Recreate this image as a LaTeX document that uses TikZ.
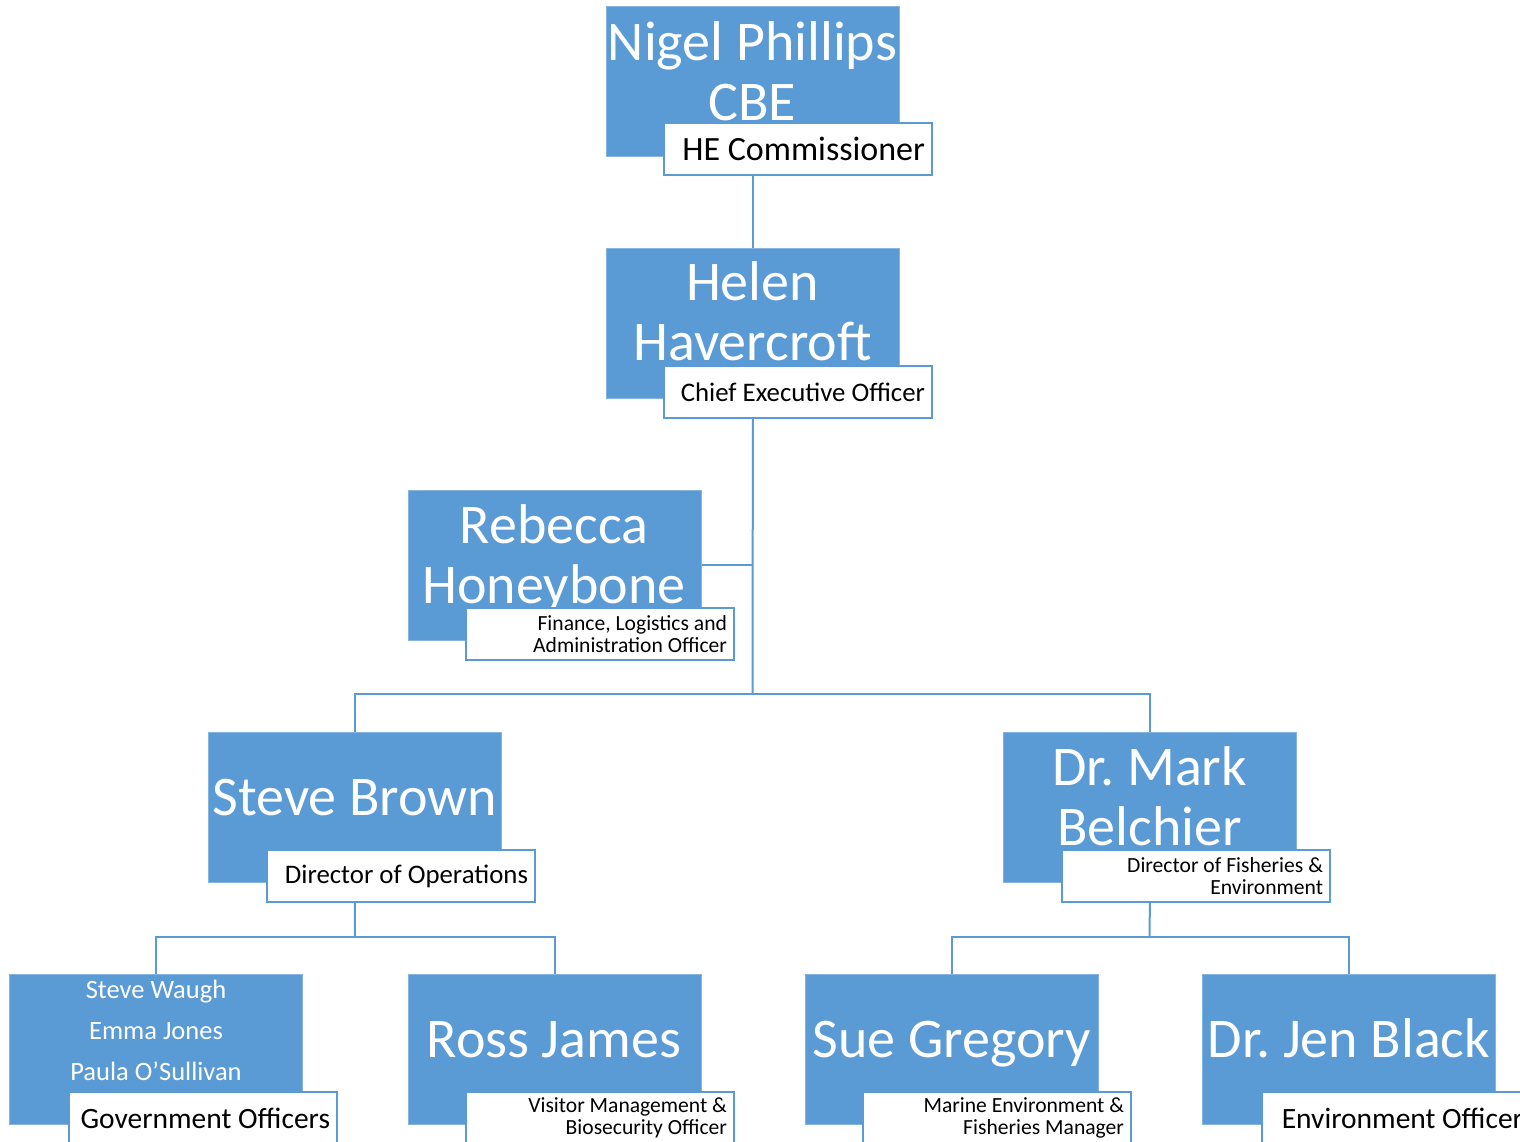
\documentclass[tikz,border=0pt]{standalone}
\usepackage{fontspec}
\setmainfont{Carlito}
\definecolor{boxblue}{HTML}{5B9BD5}
\definecolor{lineblue}{HTML}{5B9BD5}
\begin{document}
\frenchspacing
\begin{tikzpicture}[x=1pt,y=-1pt,
  bluebox/.style={fill=boxblue, draw=boxblue!75!white, line width=0.8pt,
    minimum width=293pt, minimum height=150pt, inner sep=0pt, anchor=north west},
  labelbox/.style={fill=white, draw=lineblue, line width=2pt,
    minimum width=268pt, minimum height=52pt, text width=254pt, inner xsep=7pt,
    inner ysep=0pt, align=flush right, anchor=north west, text=black},
  nametext/.style={text=white, align=center, anchor=base, inner sep=0pt,
    font=\fontsize{56}{60}\selectfont},
  smalllabel/.style={font=\fontsize{21.6}{22}\selectfont},
  conn/.style={draw=lineblue, line width=2pt}
]
\path[use as bounding box, clip] (0,0) rectangle (1520,1141);

% level 1
\node[bluebox] (b1) at (606,6) {};
\node[nametext] (t1) at (752.5,120) {Nigel Phillips\\CBE};
\node[labelbox, font=\fontsize{34}{36}\selectfont] (l1) at (663,122) {HE Commissioner};

% level 2
\node[bluebox] (b2) at (606,248) {};
\node[nametext] (t2) at (752.5,360) {Helen\\Havercroft};
\node[labelbox, font=\fontsize{26.8}{30}\selectfont] (l2) at (663,365) {Chief Executive Officer};

% Rebecca
\node[bluebox] (b3) at (408,490) {};
\node[nametext] (t3) at (554,603) {Rebecca\\Honeybone};
\node[labelbox, smalllabel] (l3) at (465,607) {Finance, Logistics and\\Administration Officer};

% level 3
\node[bluebox] (b4) at (208,732) {};
\node[nametext] (t4) at (355,815) {Steve Brown};
\node[labelbox, font=\fontsize{26.8}{30}\selectfont] (l4) at (266,849) {Director of Operations};

\node[bluebox] (b5) at (1003,732) {};
\node[nametext] (t5) at (1149.5,845) {Dr. Mark\\Belchier};
\node[labelbox, smalllabel] (l5) at (1061,849) {Director of Fisheries \&\\Environment};

% level 4
\node[bluebox] (b6) at (9,974) {};
\node[nametext, font=\fontsize{26.5}{41}\selectfont] (t6) at (156,1080) {Steve Waugh\\Emma Jones\\Paula O’Sullivan};
\node[labelbox, font=\fontsize{29.5}{32}\selectfont] (l6) at (68,1091) {Government Officers};

\node[bluebox] (b7) at (408,974) {};
\node[nametext] (t7) at (554,1057) {Ross James};
\node[labelbox, smalllabel] (l7) at (465,1091) {Visitor Management \&\\Biosecurity Officer};

\node[bluebox] (b8) at (805,974) {};
\node[nametext] (t8) at (951.5,1057) {Sue Gregory};
\node[labelbox, smalllabel] (l8) at (862,1091) {Marine Environment \&\\Fisheries Manager};

\node[bluebox] (b9) at (1202,974) {};
\node[nametext] (t9) at (1349,1057) {Dr. Jen Black};
\node[labelbox, font=\fontsize{29.5}{32}\selectfont] (l9) at (1261,1091) {Environment Officer};

% junction coordinates
\coordinate (j1) at (752.5,694);
\coordinate (j2) at (355,937);
\coordinate (j3) at (1149.5,937);

% connectors
\draw[conn] (b1.center |- l1.south) -- (b2.north);
\draw[conn] (b2.center |- l2.south) -- (j1);
\draw[conn] (b3.east) -- (b3.east -| j1);
\draw[conn] (b4.north) -- (b4.north |- j1) -- (b5.north |- j1) -- (b5.north);
\draw[conn] (b4.center |- l4.south) -- (j2);
\draw[conn] (b6.north) -- (b6.north |- j2) -- (b7.north |- j2) -- (b7.north);
\draw[conn] (b5.center |- l5.south) -- (j3);
\draw[conn] (b8.north) -- (b8.north |- j3) -- (b9.north |- j3) -- (b9.north);
\end{tikzpicture}
\end{document}
